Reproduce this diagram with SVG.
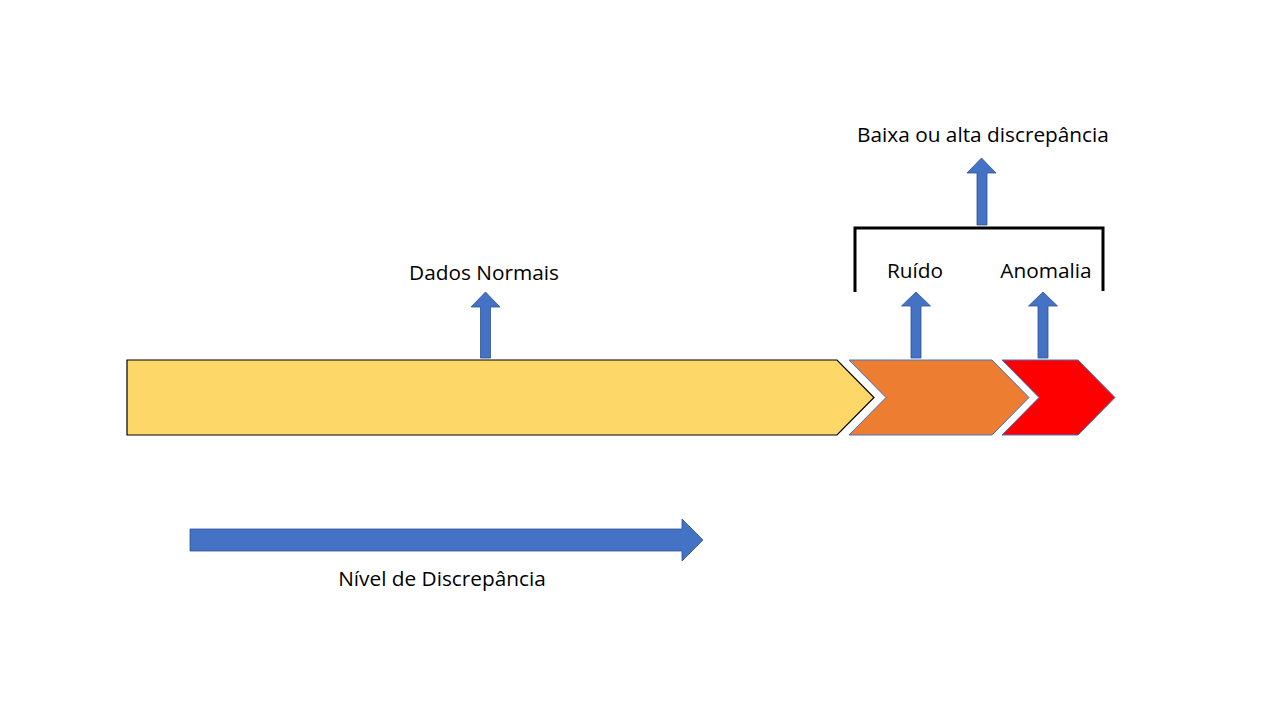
<svg xmlns="http://www.w3.org/2000/svg" width="1280" height="720" viewBox="0 0 1280 720">
<style>
.lbl{font-family:"Open Sans","Liberation Sans",sans-serif;font-size:20.8px;fill:#000;text-anchor:middle}
.arr{fill:#4472C4;stroke:#2F528F;stroke-width:0.8}
.chev{stroke:#4472C4;stroke-width:1}
</style>
<rect width="1280" height="720" fill="#fff"/>
<g id="dados-normais-bar">
<polygon points="127,360 837,360 874,397.5 837,435 127,435" fill="#FDD869" stroke="#000" stroke-width="1.2"/>
</g>
<g id="ruido-chevron">
<polygon class="chev" points="849,360 992,360 1029,397.5 992,435 849,435 886,397.5" fill="#ED7D31"/>
</g>
<g id="anomalia-chevron">
<polygon class="chev" points="1002,360 1078,360 1115,397.5 1078,435 1002,435 1039,397.5" fill="#FF0000"/>
</g>
<g id="bracket">
<path d="M855,292 V228 H1103 V291" fill="none" stroke="#000" stroke-width="3"/>
</g>
<g id="connectors">
<polygon class="arr" points="480.5,358 490.5,358 490.5,307 500,307 485.5,292 471,307 480.5,307"/>
<polygon class="arr" points="911,358 921,358 921,306 930.5,306 916,292 901.5,306 911,306"/>
<polygon class="arr" points="1038,358 1048,358 1048,306 1057.5,306 1043,292 1028.5,306 1038,306"/>
<polygon class="arr" points="977,225 987,225 987,173 996,173 981.5,158 967,173 977,173"/>
<polygon class="arr" points="190,529 682,529 682,519 703,540 682,561 682,551 190,551"/>
</g>
<g id="labels">
<text class="lbl" x="983" y="142">Baixa ou alta discrepância</text>
<text class="lbl" x="484" y="280">Dados Normais</text>
<text class="lbl" x="915" y="278">Ruído</text>
<text class="lbl" x="1046" y="278">Anomalia</text>
<text class="lbl" x="442" y="586">Nível de Discrepância</text>
</g>
</svg>
